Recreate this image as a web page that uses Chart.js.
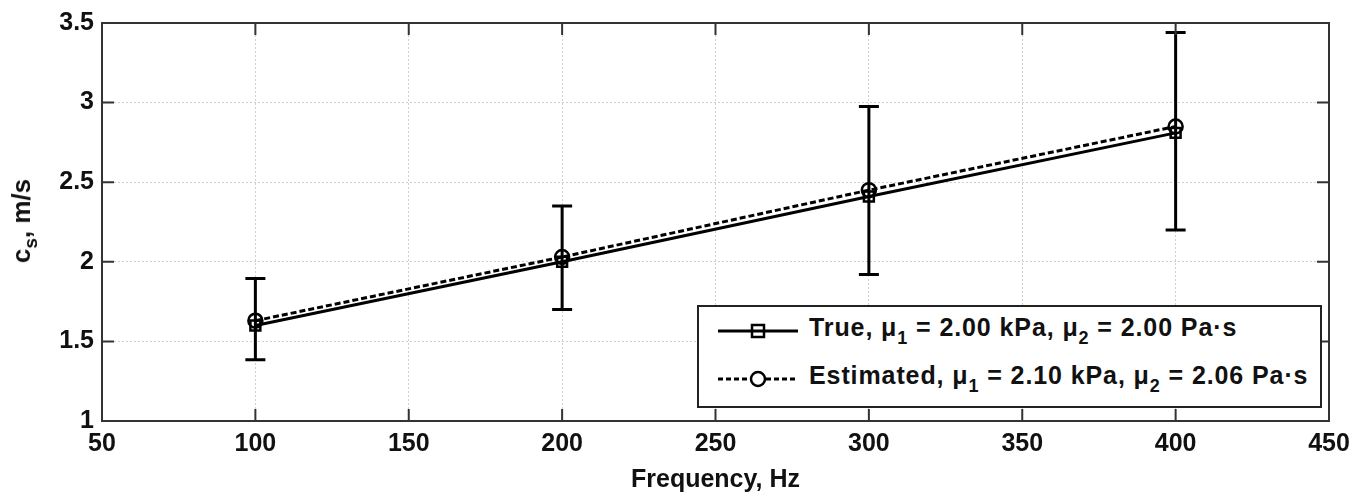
<!DOCTYPE html>
<html>
<head>
<meta charset="utf-8">
<script src="https://cdn.jsdelivr.net/npm/chart.js@4/dist/chart.umd.min.js"></script>
<style>
  html, body { margin: 0; padding: 0; background: #fff; }
  #wrap { position: relative; width: 1370px; height: 502px; }
  #chart { position: absolute; left: 0; top: 0; }
  #ytitle {
    position: absolute; left: 24px; top: 221px;
    transform: translate(-50%, -50%) rotate(-90deg);
    font: bold 26px "Liberation Sans", Arial, sans-serif; color: #111; white-space: nowrap;
  }
  #ytitle sub { font-size: 19px; vertical-align: -7px; }
  #legend {
    position: absolute; left: 697px; top: 305px; width: 621px; height: 99px;
    border: 2px solid #222; background: #fff;
    font: bold 25px "Liberation Sans", Arial, sans-serif; color: #111; letter-spacing: 0.9px;
  }
  #legend .row { position: absolute; left: 0; height: 30px; display: flex; align-items: center; white-space: nowrap; }
  #legend svg { margin-left: 19px; margin-right: 11px; }
  #legend sub { font-size: 18px; vertical-align: -8px; }
</style>
</head>
<body>
<div id="wrap">
  <canvas id="chart" width="1370" height="502"></canvas>
  <div id="ytitle">c<sub>s</sub>, m/s</div>
  <div id="legend">
    <div class="row" style="top:9px">
      <svg width="80" height="20"><line x1="0" y1="10" x2="80" y2="10" stroke="#000" stroke-width="3"/><rect x="34" y="4" width="12" height="12" fill="none" stroke="#000" stroke-width="2.5"/></svg>
      <span>True, μ<sub>1</sub> = 2.00 kPa, μ<sub>2</sub> = 2.00 Pa·s</span>
    </div>
    <div class="row" style="top:57px">
      <svg width="80" height="20"><line x1="0" y1="10" x2="80" y2="10" stroke="#000" stroke-width="3" stroke-dasharray="5 3"/><circle cx="40" cy="10" r="7" fill="#fff" stroke="#000" stroke-width="2.5"/></svg>
      <span>Estimated, μ<sub>1</sub> = 2.10 kPa, μ<sub>2</sub> = 2.06 Pa·s</span>
    </div>
  </div>
</div>
<script>
const frequencies = [100, 200, 300, 400];
const trueSpeed = [1.60, 2.00, 2.41, 2.81];
const estimatedSpeed = [1.63, 2.03, 2.45, 2.85];
const errLow = [1.385, 1.70, 1.92, 2.20];
const errHigh = [1.895, 2.35, 2.975, 3.44];
const xTicks = [50, 100, 150, 200, 250, 300, 350, 400, 450];
const yTicks = [1, 1.5, 2, 2.5, 3, 3.5];

const FONT = '"Liberation Sans", Arial, sans-serif';

// frame, inward tick marks and error bars
const extras = {
  id: 'extras',
  afterDatasetsDraw(chart) {
    const { ctx, chartArea: a, scales: { x, y } } = chart;
    ctx.save();
    ctx.strokeStyle = '#000';
    ctx.lineWidth = 3;
    frequencies.forEach((f, i) => {
      const px = x.getPixelForValue(f);
      const top = y.getPixelForValue(errHigh[i]);
      const bot = y.getPixelForValue(errLow[i]);
      ctx.beginPath();
      ctx.moveTo(px, top); ctx.lineTo(px, bot);
      ctx.moveTo(px - 10, top); ctx.lineTo(px + 10, top);
      ctx.moveTo(px - 10, bot); ctx.lineTo(px + 10, bot);
      ctx.stroke();
    });
    ctx.strokeStyle = '#333';
    ctx.lineWidth = 2;
    ctx.strokeRect(a.left, a.top, a.right - a.left, a.bottom - a.top);
    ctx.beginPath();
    xTicks.forEach(v => {
      const px = x.getPixelForValue(v);
      ctx.moveTo(px, a.bottom); ctx.lineTo(px, a.bottom - 12);
      ctx.moveTo(px, a.top); ctx.lineTo(px, a.top + 12);
    });
    yTicks.forEach(v => {
      const py = y.getPixelForValue(v);
      ctx.moveTo(a.left, py); ctx.lineTo(a.left + 12, py);
      ctx.moveTo(a.right, py); ctx.lineTo(a.right - 12, py);
    });
    ctx.stroke();
    ctx.restore();
  }
};

new Chart(document.getElementById('chart').getContext('2d'), {
  type: 'line',
  data: {
    datasets: [
      {
        label: 'True',
        data: frequencies.map((f, i) => ({ x: f, y: trueSpeed[i] })),
        borderColor: '#000',
        borderWidth: 3,
        pointStyle: 'rect',
        pointRadius: 7,
        pointBorderWidth: 2.5,
        pointBackgroundColor: 'rgba(0,0,0,0)',
        pointBorderColor: '#000'
      },
      {
        label: 'Estimated',
        data: frequencies.map((f, i) => ({ x: f, y: estimatedSpeed[i] })),
        borderColor: '#000',
        borderWidth: 3,
        borderDash: [6, 3],
        pointStyle: 'circle',
        pointRadius: 7,
        pointBorderWidth: 2.5,
        pointBackgroundColor: 'rgba(0,0,0,0)',
        pointBorderColor: '#000'
      }
    ]
  },
  options: {
    responsive: false,
    animation: false,
    layout: { padding: { top: 16, right: 41, bottom: 0, left: 0 } },
    plugins: {
      legend: { display: false },
      tooltip: { enabled: false }
    },
    scales: {
      x: {
        type: 'linear',
        min: 50,
        max: 450,
        afterBuildTicks: s => { s.ticks = xTicks.map(v => ({ value: v })); },
        afterFit: s => { s.height = 81; },
        grid: { color: '#cfcfcf', lineWidth: 1, drawTicks: false },
        border: { display: false, dash: [2, 2] },
        ticks: {
          padding: 8,
          color: '#111',
          font: { family: FONT, size: 25, weight: 'bold' },
          callback: v => String(v)
        },
        title: {
          display: true,
          text: 'Frequency, Hz',
          color: '#111',
          padding: { top: 0, bottom: 7 },
          font: { family: FONT, size: 25, weight: 'bold' }
        }
      },
      y: {
        type: 'linear',
        min: 1,
        max: 3.5,
        afterBuildTicks: s => { s.ticks = yTicks.map(v => ({ value: v })); },
        afterFit: s => { s.width = 102; },
        grid: { color: '#cfcfcf', lineWidth: 1, drawTicks: false },
        border: { display: false, dash: [2, 2] },
        ticks: {
          padding: 8,
          color: '#111',
          font: { family: FONT, size: 25, weight: 'bold' },
          callback: v => String(v)
        }
      }
    }
  },
  plugins: [extras]
});
</script>
</body>
</html>
